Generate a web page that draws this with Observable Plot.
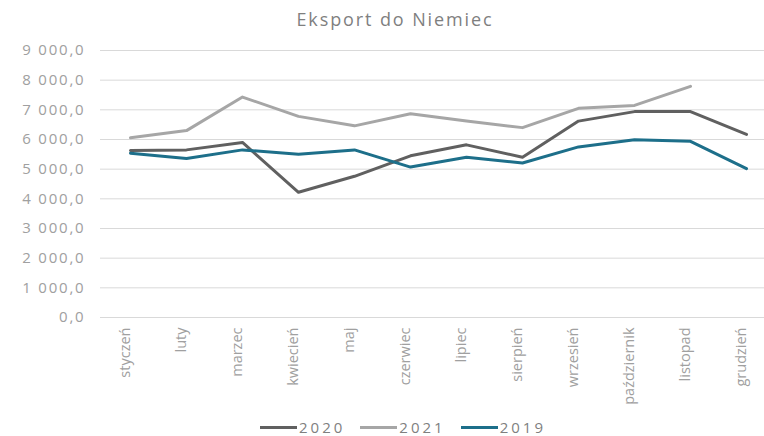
<!DOCTYPE html>
<html>
<head>
<meta charset="utf-8">
<script src="https://cdn.jsdelivr.net/npm/d3@7"></script>
<script src="https://cdn.jsdelivr.net/npm/@observablehq/plot@0.6"></script>
<style>
  body { margin: 0; background: #fff; font-family: "Open Sans", sans-serif; }
  #wrap { width: 764px; height: 436px; position: relative; overflow: hidden; }
  #title { height: 35px; line-height: 38px; text-align: center; font-size: 18px; letter-spacing: 1.9px; color: #7f7f7f; padding-left: 26px; box-sizing: border-box; }
  #legend { position: absolute; top: 417px; left: 0; width: 764px; display: flex; justify-content: center; gap: 15px; font-size: 15px; letter-spacing: 3px; color: #7f7f7f; padding-left: 42px; box-sizing: border-box; }
  .item { display: flex; align-items: center; gap: 2px; }
  .sw { width: 37px; height: 3px; }
  svg g[aria-label="y-axis tick label"] text { letter-spacing: 1.8px; }
</style>
</head>
<body>
<div id="wrap">
  <div id="title">Eksport do Niemiec</div>
  <div id="chart"></div>
  <div id="legend"></div>
</div>
<script>
const months = ["styczeń","luty","marzec","kwiecień","maj","czerwiec","lipiec","sierpień","wrzesień","październik","listopad","grudzień"];
const v2020 = [5630, 5650, 5900, 4220, 4760, 5450, 5820, 5400, 6620, 6940, 6940, 6170];
const v2021 = [6060, 6300, 7430, 6780, 6460, 6870, 6620, 6400, 7050, 7150, 7790, null];
const v2019 = [5540, 5360, 5650, 5500, 5650, 5070, 5400, 5210, 5750, 5990, 5940, 5020];
const seriesNames = ["2020", "2021", "2019"];
const seriesColors = ["#606060", "#a6a6a6", "#1d6f8a"];
const yTicks = [0, 1000, 2000, 3000, 4000, 5000, 6000, 7000, 8000, 9000];

const seriesValues = [v2020, v2021, v2019];
const data = [];
seriesNames.forEach((s, i) => {
  months.forEach((m, j) => {
    const v = seriesValues[i][j];
    if (v != null) data.push({series: s, month: m, value: v});
  });
});

const loc = d3.formatLocale({decimal: ",", thousands: "\u00a0", grouping: [3], currency: ["", ""]});
const fmt = loc.format(",.1f");

const chart = Plot.plot({
  width: 764,
  height: 375,
  marginLeft: 100,
  marginRight: 0,
  marginTop: 15,
  marginBottom: 93,
  style: {fontFamily: "Open Sans, sans-serif", background: "#fff"},
  x: {type: "point", domain: months, range: [128, 747], padding: 0, label: null},
  y: {domain: [0, 9000], label: null},
  color: {domain: seriesNames, range: seriesColors},
  marks: [
    Plot.ruleY(yTicks, {stroke: "#d9d9d9", strokeWidth: 1}),
    Plot.axisY(yTicks, {tickSize: 0, tickPadding: 15, tickFormat: fmt, fontSize: 15, color: "#a0a0a0", label: null}),
    Plot.axisX({tickSize: 0, tickPadding: 10, tickRotate: -90, fontSize: 14.5, color: "#a0a0a0", label: null, dx: -5}),
    Plot.line(data, {x: "month", y: "value", z: "series", stroke: "series", strokeWidth: 3, strokeLinejoin: "round", strokeLinecap: "round"})
  ]
});
document.getElementById("chart").appendChild(chart);

const legend = document.getElementById("legend");
seriesNames.forEach((s, i) => {
  const item = document.createElement("div");
  item.className = "item";
  const sw = document.createElement("div");
  sw.className = "sw";
  sw.style.background = seriesColors[i];
  const t = document.createElement("span");
  t.textContent = s;
  item.appendChild(sw);
  item.appendChild(t);
  legend.appendChild(item);
});
</script>
</body>
</html>
